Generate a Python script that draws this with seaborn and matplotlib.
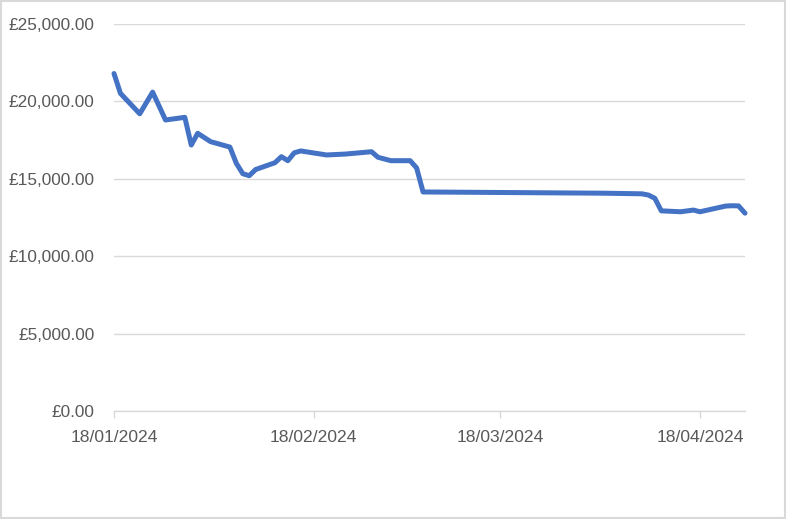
import pandas as pd
import matplotlib
matplotlib.use("Agg")
import matplotlib.pyplot as plt
import matplotlib.dates as mdates
from matplotlib.ticker import FuncFormatter
from matplotlib.patches import Rectangle
import seaborn as sns

# values
dates = ["18/01/2024", "19/01/2024", "22/01/2024", "24/01/2024", "26/01/2024",
         "29/01/2024", "30/01/2024", "31/01/2024", "02/02/2024", "05/02/2024",
         "06/02/2024", "07/02/2024", "08/02/2024", "09/02/2024", "12/02/2024",
         "13/02/2024", "14/02/2024", "15/02/2024", "16/02/2024", "20/02/2024",
         "23/02/2024", "27/02/2024", "28/02/2024", "01/03/2024", "04/03/2024",
         "05/03/2024", "06/03/2024", "13/03/2024", "20/03/2024", "27/03/2024",
         "03/04/2024", "09/04/2024", "10/04/2024", "11/04/2024", "12/04/2024",
         "15/04/2024", "17/04/2024", "18/04/2024", "22/04/2024", "23/04/2024",
         "24/04/2024", "25/04/2024"]
values = [21800, 20520, 19200, 20600, 18800,
          18970, 17180, 17940, 17400, 17050,
          16000, 15330, 15200, 15600, 16040,
          16430, 16170, 16680, 16800, 16540,
          16600, 16750, 16390, 16170, 16170,
          15700, 14150, 14130, 14110, 14090,
          14070, 14030, 13950, 13740, 12930,
          12870, 12980, 12870, 13240, 13260,
          13250, 12780]

df = pd.DataFrame({"date": pd.to_datetime(dates, format="%d/%m/%Y"), "value": values})

sns.set_style("white")
plt.rcParams["font.family"] = ["Liberation Sans", "DejaVu Sans"]

fig = plt.figure(figsize=(7.86, 5.19), dpi=100)
ax = fig.add_axes([114 / 786, 1 - 411 / 519, (745 - 114) / 786, (411 - 24) / 519])

sns.lineplot(data=df, x="date", y="value", ax=ax, color="#4472C4", linewidth=3.6,
             solid_capstyle="round", solid_joinstyle="round", clip_on=False)

ax.set_xlim(pd.Timestamp("2024-01-18"), pd.Timestamp("2024-04-25"))
ax.set_ylim(0, 25000)
ax.set_yticks([0, 5000, 10000, 15000, 20000, 25000])
ax.yaxis.set_major_formatter(FuncFormatter(lambda v, p: "£{:,.2f}".format(v)))
ax.xaxis.set_major_locator(mdates.MonthLocator(bymonthday=18))
ax.xaxis.set_major_formatter(mdates.DateFormatter("%d/%m/%Y"))

ax.grid(axis="y", color="#d9d9d9", linewidth=1)
ax.set_axisbelow(True)
for s in ["top", "right", "left"]:
    ax.spines[s].set_visible(False)
ax.spines["bottom"].set_color("#d9d9d9")
ax.spines["bottom"].set_linewidth(1)
ax.tick_params(axis="y", length=0, pad=14, labelsize=12.4, labelcolor="#595959")
ax.tick_params(axis="x", length=5, width=1, color="#d9d9d9", pad=9,
               labelsize=12.6, labelcolor="#595959", bottom=True)
ax.set_xlabel("")
ax.set_ylabel("")

# chart border like the Excel chart area
fig.add_artist(Rectangle((0.001, 0.001), 0.998, 0.997, transform=fig.transFigure,
                         fill=False, edgecolor="#d9d9d9", linewidth=1.5))

fig.savefig("out.png", dpi=100)
